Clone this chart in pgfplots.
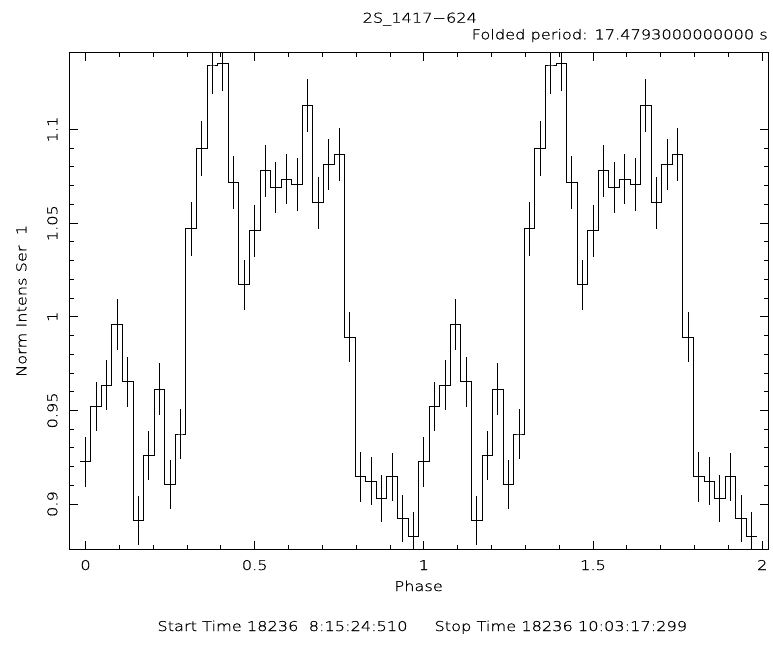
\documentclass[border=0pt]{standalone}
\usepackage{pgfplots}
\pgfplotsset{compat=1.18}
\usepackage{pgfplotstable}
\usepackage{fontspec}
\setmainfont{DejaVu Sans ExtraLight}[FakeStretch=1.2, FakeBold=0.8]
\newcommand\plotfont{\fontsize{13.5}{16}\selectfont}

% Folded light curve: 32 phase bins, shown over two cycles
\pgfplotstableread{
x        y       e
0.00000  0.9225  0.0132
0.03125  0.9521  0.0133
0.06250  0.9635  0.0133
0.09375  0.9960  0.0136
0.12500  0.9653  0.0133
0.15625  0.8912  0.0129
0.18750  0.9260  0.0129
0.21875  0.9614  0.0138
0.25000  0.9104  0.0132
0.28125  0.9374  0.0133
0.31250  1.0469  0.0142
0.34375  1.0899  0.0145
0.37500  1.1339  0.0150
0.40625  1.1352  0.0147
0.43750  1.0717  0.0140
0.46875  1.0170  0.0135
0.50000  1.0460  0.0139
0.53125  1.0779  0.0137
0.56250  1.0690  0.0136
0.59375  1.0735  0.0135
0.62500  1.0707  0.0140
0.65625  1.1126  0.0142
0.68750  1.0609  0.0139
0.71875  1.0813  0.0138
0.75000  1.0867  0.0140
0.78125  0.9891  0.0132
0.81250  0.9145  0.0132
0.84375  0.9122  0.0129
0.87500  0.9029  0.0127
0.90625  0.9145  0.0129
0.93750  0.8923  0.0127
0.96875  0.8825  0.0130
1.00000  0.9225  0.0132
1.03125  0.9521  0.0133
1.06250  0.9635  0.0133
1.09375  0.9960  0.0136
1.12500  0.9653  0.0133
1.15625  0.8912  0.0129
1.18750  0.9260  0.0129
1.21875  0.9614  0.0138
1.25000  0.9104  0.0132
1.28125  0.9374  0.0133
1.31250  1.0469  0.0142
1.34375  1.0899  0.0145
1.37500  1.1339  0.0150
1.40625  1.1352  0.0147
1.43750  1.0717  0.0140
1.46875  1.0170  0.0135
1.50000  1.0460  0.0139
1.53125  1.0779  0.0137
1.56250  1.0690  0.0136
1.59375  1.0735  0.0135
1.62500  1.0707  0.0140
1.65625  1.1126  0.0142
1.68750  1.0609  0.0139
1.71875  1.0813  0.0138
1.75000  1.0867  0.0140
1.78125  0.9891  0.0132
1.81250  0.9145  0.0132
1.84375  0.9122  0.0129
1.87500  0.9029  0.0127
1.90625  0.9145  0.0129
1.93750  0.8923  0.0127
1.96875  0.8825  0.0130
}\foldedcurve

\begin{document}
\begin{tikzpicture}
\begin{axis}[
  at={(0pt,0pt)}, anchor=south west,
  scale only axis,
  width=698.7pt, height=496.3pt,
  xmin=-0.048, xmax=2.017,
  ymin=0.876, ymax=1.141,
  xtick={0,0.5,1,1.5,2},
  xticklabels={0,0.5,1,1.5,2},
  ytick={0.9,0.95,1,1.05,1.1},
  yticklabels={0.9,0.95,1,1.05,1.1},
  minor x tick num=4,
  minor y tick num=4,
  tick align=inside,
  major tick length=8.5pt,
  minor tick length=4.5pt,
  every tick/.style={black, line width=0.9pt},
  axis line style={line width=1pt},
  tick label style={font=\plotfont},
  xticklabel style={anchor=base, inner sep=0pt, yshift=-21pt},
  yticklabel style={anchor=base, inner sep=0pt, xshift=-12pt, rotate=90},
  every axis x label/.style={at={(axis description cs:0.5,0)}, anchor=base, yshift=-42pt, font=\plotfont},
  every axis y label/.style={at={(axis description cs:0,0.5)}, xshift=-43pt, rotate=90, anchor=base, font=\plotfont},
  xlabel={Phase},
  ylabel={Norm Intens Ser\ \ 1},
  clip=true,
]
% error bars at the bin centres
\addplot[draw=none, mark=none, forget plot,
  error bars/.cd, y dir=both, y explicit, error mark=none,
  error bar style={draw=black, solid, line width=1pt}]
  table[x=x, y=y, y error=e] {\foldedcurve};
% histogram steps
\addplot[const plot mark mid, black, line width=1pt, mark=none]
  table[x=x, y=y] {\foldedcurve};
% half-bin ends of the first and last bins
\addplot[black, line width=1pt, mark=none] coordinates {(-0.015625,0.9225) (0,0.9225)};
\addplot[black, line width=1pt, mark=none] coordinates {(1.96875,0.8825) (1.984375,0.8825)};
\end{axis}
\node[anchor=base, font=\plotfont] at (350.5pt,526.3pt) {2S\_1417−624};
\node[anchor=base east, font=\plotfont, inner sep=0pt] at (698.7pt,509.7pt) {Folded period: 17.4793000000000 s};
\node[anchor=base, font=\plotfont] at (353pt,-82pt) {Start Time 18236\ \ 8:15:24:510\qquad Stop Time 18236 10:03:17:299};
\pgfresetboundingbox
\useasboundingbox (-69.3pt,-96pt) rectangle (703.7pt,549pt);
\end{tikzpicture}
\end{document}
